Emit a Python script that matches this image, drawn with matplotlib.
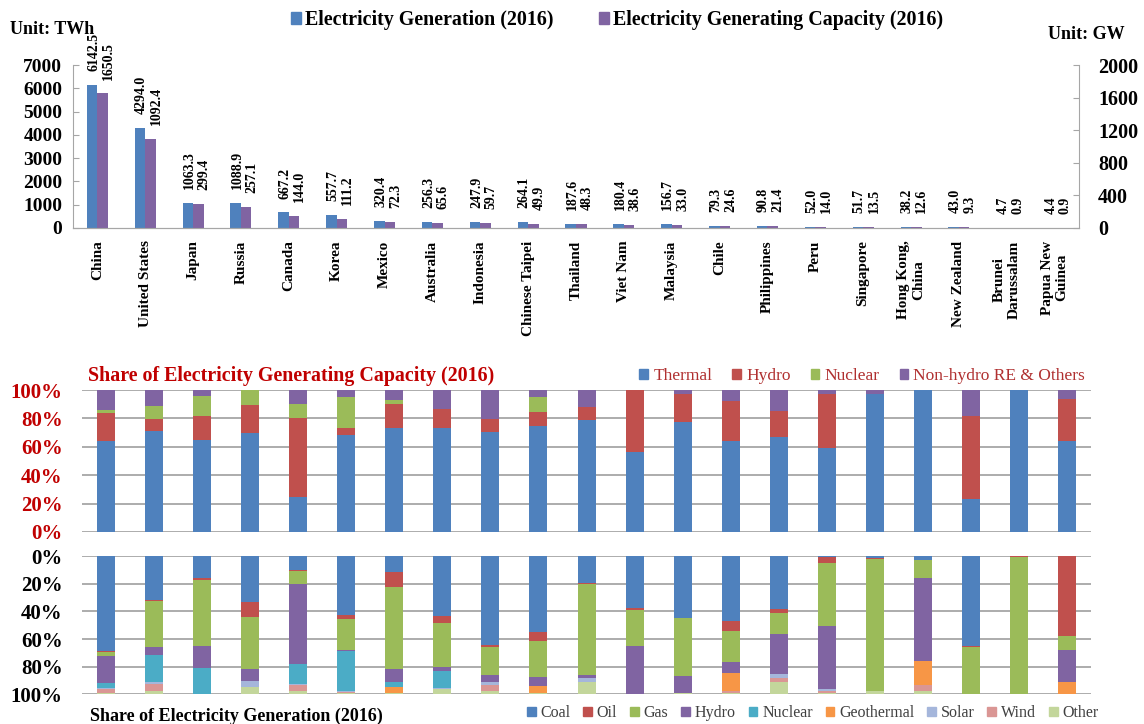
import matplotlib
matplotlib.use('Agg')
import matplotlib.pyplot as plt
from matplotlib.patches import Patch
import numpy as np

plt.rcParams['font.family'] = ['Liberation Serif', 'DejaVu Serif']

# --- data ---
countries = ['China', 'United States', 'Japan', 'Russia', 'Canada', 'Korea', 'Mexico',
             'Australia', 'Indonesia', 'Chinese Taipei', 'Thailand', 'Viet Nam', 'Malaysia',
             'Chile', 'Philippines', 'Peru', 'Singapore', 'Hong Kong,\nChina', 'New Zealand',
             'Brunei\nDarussalam', 'Papua New\nGuinea']

gen_twh = [6142.5, 4294.0, 1063.3, 1088.9, 667.2, 557.7, 320.4, 256.3, 247.9, 264.1, 187.6,
           180.4, 156.7, 79.3, 90.8, 52.0, 51.7, 38.2, 43.0, 4.7, 4.4]
cap_gw = [1650.5, 1092.4, 299.4, 257.1, 144.0, 111.2, 72.3, 65.6, 59.7, 49.9, 48.3,
          38.6, 33.0, 24.6, 21.4, 14.0, 13.5, 12.6, 9.3, 0.9, 0.9]

# capacity shares (%)
cap_names = ['Thermal', 'Hydro', 'Nuclear', 'Non-hydro RE & Others']
cap_thermal = [64, 71, 65, 69.5, 25, 68, 73.5, 73, 70.5, 75, 79, 56.5, 77.5, 64, 67, 59.5, 97.5, 100, 23.5, 100, 64]
cap_hydro = [20, 8.5, 16.5, 20, 55, 5.5, 16.5, 13.5, 9, 9.5, 9, 43.5, 19.5, 28, 18, 37.5, 0, 0, 58, 0, 30]
cap_nuclear = [2, 9.5, 14.5, 10.5, 10, 21.5, 3, 0, 0, 10.5, 0, 0, 0, 0, 0, 0, 0, 0, 0, 0, 0]
cap_re = [14, 11, 4, 0, 10, 5, 7, 13.5, 20.5, 5, 12, 0, 3, 8, 15, 3, 2.5, 0, 18.5, 0, 6]

# generation shares (%)
gen_names = ['Coal', 'Oil', 'Gas', 'Hydro', 'Nuclear', 'Geothermal', 'Solar', 'Wind', 'Other']
gen_coal = [69, 32, 16, 33, 9.5, 42.5, 11, 43.5, 64, 55, 19.5, 37.5, 44.5, 47, 38.5, 0.3, 1.2, 2.4, 65, 0, 0]
gen_oil = [0.2, 0.7, 1, 11, 1, 3, 11, 5, 2, 6.5, 0.5, 1.5, 0.5, 7.5, 2.5, 4.6, 0.6, 0, 0.5, 0.7, 58]
gen_gas = [3, 33, 48, 38, 9.5, 22.5, 59.5, 31.5, 20, 26, 66.5, 26, 42, 22, 15.5, 46, 95.8, 13.3, 34.5, 99.3, 10]
gen_hydro = [20, 6, 16.3, 8.5, 58, 0.5, 9.7, 3.5, 5.5, 7, 1.5, 35, 12.5, 8, 29, 45.7, 0, 60, 0, 0, 23]
gen_nuclear = [3.5, 19.5, 18.7, 0, 15, 29, 3.6, 12, 0, 0, 0, 0, 0, 0, 0, 0, 0, 0, 0, 0, 0]
gen_geo = [0, 0.4, 0, 0, 0, 0, 4.2, 0, 0, 5, 0, 0, 0, 13, 0, 0, 0, 17.7, 0, 0, 9]
gen_solar = [0.8, 1, 0, 4.5, 0.5, 1, 0, 1, 2, 0, 3, 0, 0, 0.5, 2.5, 1, 0.2, 0, 0, 0, 0]
gen_wind = [2.5, 5.5, 0, 0, 4.5, 0.5, 0.5, 0, 4.5, 0, 0.5, 0, 0, 1, 3, 1.7, 0, 4.5, 0, 0, 0]
gen_other = [1, 1.9, 0, 5, 2, 1, 0.5, 3.5, 2, 0.5, 8.5, 0, 0.5, 1, 9, 0.7, 2.2, 2.1, 0, 0, 0]

# excel-ish palette
blue, red, green, purple = '#4F81BD', '#C0504D', '#9BBB59', '#8064A2'
cap_colors = [blue, red, green, purple]
gen_colors = [blue, red, green, purple, '#4BACC6', '#F79646', '#A5B6DB', '#DA9694', '#C3D69B']
grid_col = '#A6A6A6'
dark_red = '#C00000'

x = np.arange(len(countries))

fig = plt.figure(figsize=(11.44, 7.24), dpi=100)

# --- top: generation / capacity bars ---
ax1 = fig.add_axes([0.0642, 0.6851, 0.8786, 0.2251])
ax2 = ax1.twinx()
w = 0.22
ax1.bar(x - w / 2, gen_twh, w, color=blue)
ax2.bar(x + w / 2, cap_gw, w, color=purple)
ax1.set_ylim(0, 7000)
ax2.set_ylim(0, 2000)
ax1.set_xlim(-0.5, len(countries) - 0.5)
ax1.set_yticks(range(0, 7001, 1000))
ax2.set_yticks(range(0, 2001, 400))
for a in (ax1, ax2):
    for s in a.spines.values():
        s.set_color(grid_col)
    a.spines['top'].set_visible(False)
ax1.spines['right'].set_visible(False)
ax2.spines['left'].set_visible(False)
ax1.tick_params(axis='y', direction='in', length=4, color=grid_col, pad=8, labelsize=14)
ax2.tick_params(axis='y', direction='in', length=4, color=grid_col, pad=14, labelsize=14.5)
for lab in ax1.get_yticklabels() + ax2.get_yticklabels():
    lab.set_fontweight('bold')
ax1.set_xticks(x)
ax1.set_xticklabels(countries, rotation=90, fontsize=11, fontweight='bold',
                    va='top', ha='center', multialignment='center')
ax1.tick_params(axis='x', length=0, pad=9)

# data labels above each bar
for i in range(len(countries)):
    ax1.annotate(f'{gen_twh[i]:.1f}', (x[i] - w / 2, gen_twh[i]), xytext=(1, 10),
                 textcoords='offset points', rotation=90, ha='center', va='bottom',
                 fontsize=10, fontweight='bold', annotation_clip=False)
    ax2.annotate(f'{cap_gw[i]:.1f}', (x[i] + w / 2, cap_gw[i]), xytext=(4, 10),
                 textcoords='offset points', rotation=90, ha='center', va='bottom',
                 fontsize=10, fontweight='bold', annotation_clip=False)

fig.text(0.0087, 0.9586, 'Unit: TWh', fontsize=13, fontweight='bold', va='center')
fig.text(0.916, 0.9517, 'Unit: GW', fontsize=13, fontweight='bold', va='center')
fig.legend(handles=[Patch(color=blue, label='Electricity Generation (2016)'),
                    Patch(color=purple, label='Electricity Generating Capacity (2016)')],
           loc='center left', bbox_to_anchor=(0.254, 0.972), ncol=2, frameon=False,
           prop={'weight': 'bold', 'size': 14.4}, handlelength=0.5, handleheight=0.5,
           handletextpad=0.2, columnspacing=2.3, borderpad=0, borderaxespad=0)

# --- share panels ---
def share_axes(rect, series, colors, invert):
    ax = fig.add_axes(rect)
    bottom = np.zeros(len(countries))
    for vals, c in zip(series, colors):
        v = np.array(vals) / 100.0
        ax.bar(x, v, 0.375, bottom=bottom, color=c, zorder=3)
        bottom += v
    ax.set_xlim(-0.5, len(countries) - 0.5)
    ax.set_yticks(np.arange(0, 1.01, 0.2))
    ax.set_yticklabels([f'{int(round(t * 100))}%' for t in np.arange(0, 1.01, 0.2)])
    ax.set_ylim((1, 0) if invert else (0, 1))
    ax.grid(axis='y', color=grid_col, linewidth=1.3, zorder=0)
    for s in ax.spines.values():
        s.set_visible(False)
    ax.set_xticks([])
    ax.tick_params(axis='y', length=0, pad=14, labelsize=15)
    for lab in ax.get_yticklabels():
        lab.set_fontweight('bold')
    return ax

ax3 = share_axes([0.0717, 0.2652, 0.882, 0.1961],
                 [cap_thermal, cap_hydro, cap_nuclear, cap_re], cap_colors, False)
for lab in ax3.get_yticklabels():
    lab.set_color(dark_red)
fig.text(0.0769, 0.4807, 'Share of Electricity Generating Capacity (2016)', fontsize=14.4,
         fontweight='bold', color=dark_red, va='center')
leg = fig.legend(handles=[Patch(color=c, label=n) for n, c in zip(cap_names, cap_colors)],
                 loc='center left', bbox_to_anchor=(0.559, 0.4807), ncol=4, frameon=False,
                 fontsize=12.5, handlelength=0.5, handleheight=0.5, handletextpad=0.3,
                 columnspacing=1.15, borderpad=0, borderaxespad=0)
for t in leg.get_texts():
    t.set_color('#B03030')

ax4 = share_axes([0.0717, 0.0414, 0.882, 0.19],
                 [gen_coal, gen_oil, gen_gas, gen_hydro, gen_nuclear, gen_geo, gen_solar,
                  gen_wind, gen_other], gen_colors, True)
fig.text(0.0787, 0.011, 'Share of Electricity Generation (2016)', fontsize=13,
         fontweight='bold', va='center')
leg = fig.legend(handles=[Patch(color=c, label=n) for n, c in zip(gen_names, gen_colors)],
                 loc='center left', bbox_to_anchor=(0.4605, 0.0152), ncol=9, frameon=False,
                 fontsize=11.5, handlelength=0.55, handleheight=0.55, handletextpad=0.3,
                 columnspacing=0.8, borderpad=0, borderaxespad=0)
for t in leg.get_texts():
    t.set_color('#404040')

fig.savefig('out.png', dpi=100)
